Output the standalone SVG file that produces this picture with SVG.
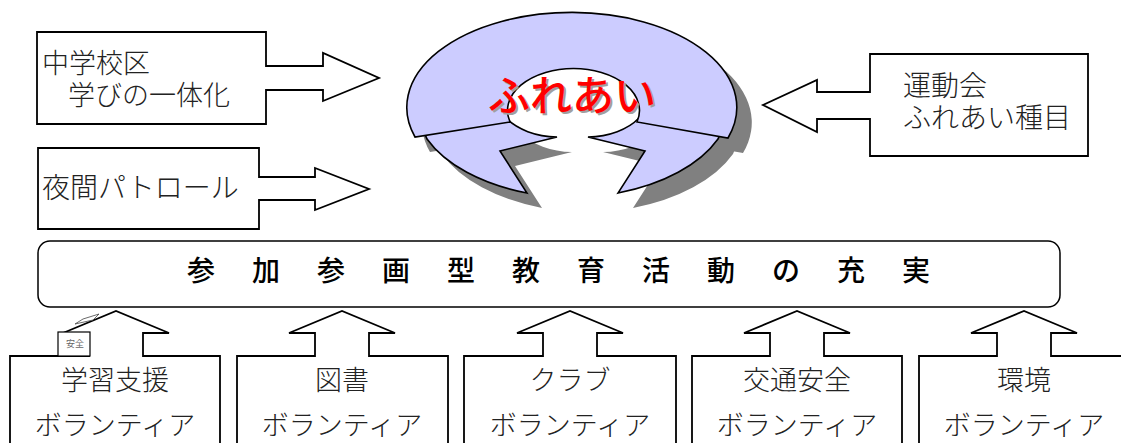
<svg xmlns="http://www.w3.org/2000/svg" width="1121" height="443" viewBox="0 0 1121 443">
<defs>
<style>
.box{fill:#fff;stroke:#000;stroke-width:1.8;stroke-linejoin:miter}
.lav{fill:#CCCCFF;stroke:#000;stroke-width:1.6;stroke-linejoin:miter}
.shd{fill:#808080;stroke:none}
.lbl{font-family:"Noto Sans CJK JP","Noto Sans CJK SC",sans-serif;font-weight:300;font-size:27px;fill:#222}
.mid{text-anchor:middle}
.ban{font-family:"Noto Sans CJK JP","Noto Sans CJK SC",sans-serif;font-weight:500;font-size:28px;fill:#000;text-anchor:middle}
</style>
<path id="lowL" d="M 427 139 A 165 95 0 0 0 527 193 L 500 151 L 557 137 A 62 40 0 0 1 506 118 L 470 112 L 420 122 Z"/>
<path id="lowR" d="M 718 139 A 165 95 0 0 1 618 193 L 645 151 L 588 137 A 62 40 0 0 0 639 118 L 675 112 L 725 122 Z"/>
<path id="band" d="M 415 137 A 165 95 0 1 1 728 138 L 637 122 A 66 42 0 1 0 510 122 Z"/>
</defs>
<rect width="1121" height="443" fill="#fff"/>

<g id="fureai">
  <g transform="translate(15,15)" class="shd">
    <use href="#band"/>
  </g>
  <ellipse cx="573.5" cy="110.6" rx="66" ry="42" fill="#fff"/>
  <g transform="translate(15,15)" class="shd">
    <use href="#lowL"/>
    <use href="#lowR"/>
  </g>
  <use href="#lowL" class="lav"/>
  <use href="#lowR" class="lav"/>
  <use href="#band" class="lav"/>
  <text x="574" y="113" text-anchor="middle" font-family="'Noto Sans CJK JP',sans-serif" font-weight="500" font-size="42" fill="#A0A0A0">ふれあい</text>
  <text x="572" y="111" text-anchor="middle" font-family="'Noto Sans CJK JP',sans-serif" font-weight="500" font-size="42" fill="#FF0000">ふれあい</text>
</g>

<g id="connectors"></g>

<g id="chugakkouku">
  <path class="box" d="M 37 32 H 266 V 66 H 323 V 53 L 379 78 L 323 101 V 90 H 266 V 124 H 37 Z"/>
  <text class="lbl" x="42" y="73">中学校区</text>
  <text class="lbl" x="68" y="105">学びの一体化</text>
</g>

<g id="yakan">
  <path class="box" d="M 38 148 H 259 V 177 H 315 V 168 L 369 189 L 315 210 V 200 H 259 V 229 H 38 Z"/>
  <text class="lbl" x="42" y="198" style="font-size:28px">夜間パトロール</text>
</g>

<g id="undoukai">
  <path class="box" d="M 870 54 H 1088 V 156 H 870 V 119 H 817 V 132 L 763 105 L 817 80 V 92 H 870 Z"/>
  <text class="lbl" x="903" y="96" style="font-size:28px">運動会</text>
  <text class="lbl" x="903" y="128" style="font-size:28px">ふれあい種目</text>
</g>

<g id="banner">
  <rect class="box" x="38" y="241" width="1022" height="66" rx="12" ry="12" style="stroke-width:1.5"/>
  <text class="ban" x="201 266 331 396 461 526 591 656 721 786 851 916" y="281">参加参画型教育活動の充実</text>
</g>

<g id="gakushu">
  <path class="box" d="M 10 460 V 356 H 89 V 333 H 63 L 116 311 L 169 333 H 143 V 356 H 220 V 460"/>
  <rect x="58" y="332" width="32" height="24" fill="#fff" stroke="#000" stroke-width="1.2"/>
  <text x="66" y="347" font-family="'Noto Sans CJK JP',sans-serif" font-size="9" fill="#666">安全</text>
  <polygon points="75,324 83,319 99,314 93,320" fill="#fff" stroke="#444" stroke-width="0.8"/>
  <text class="lbl mid" x="115" y="390">学習支援</text>
  <text class="lbl mid" x="115" y="435">ボランティア</text>
</g>

<g id="tosho">
  <path class="box" d="M 237 460 V 356 H 315 V 333 H 289 L 342 311 L 395 333 H 369 V 356 H 448 V 460"/>
  <text class="lbl mid" x="342" y="390">図書</text>
  <text class="lbl mid" x="342" y="435">ボランティア</text>
</g>

<g id="club">
  <path class="box" d="M 464 460 V 356 H 543 V 333 H 517 L 570 311 L 623 333 H 597 V 356 H 676 V 460"/>
  <text class="lbl mid" x="570" y="390">クラブ</text>
  <text class="lbl mid" x="570" y="435">ボランティア</text>
</g>

<g id="koutsu">
  <path class="box" d="M 692 460 V 356 H 770 V 333 H 744 L 797 311 L 850 333 H 824 V 356 H 902 V 460"/>
  <text class="lbl mid" x="797" y="390">交通安全</text>
  <text class="lbl mid" x="797" y="435">ボランティア</text>
</g>

<g id="kankyo">
  <path class="box" d="M 919 460 V 356 H 997 V 333 H 971 L 1024 311 L 1077 333 H 1051 V 356 H 1130 V 460"/>
  <text class="lbl mid" x="1024" y="390">環境</text>
  <text class="lbl mid" x="1024" y="435">ボランティア</text>
</g>
</svg>
